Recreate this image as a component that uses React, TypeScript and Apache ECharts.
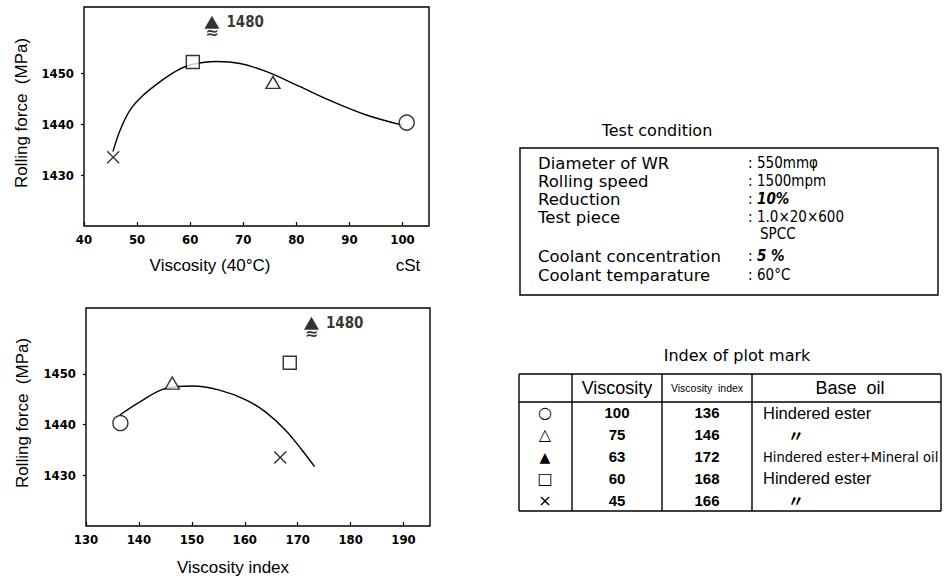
import React, { useEffect, useRef } from "react";
import * as echarts from "echarts";

// ---- data ----
const markNames = ["circle", "triangle", "filledTriangle", "square", "cross"];
const markGlyphs = ["○", "△", "▲", "□", "×"];
// table values
const viscosity = [100, 75, 63, 60, 45];
const viscosityIndex = [136, 146, 172, 168, 166];
const baseOil = ["Hindered ester", "〃", "Hindered ester+Mineral oil", "Hindered ester", "〃"];
// positions of the marks
const plotViscosity = [100.8, 75.6, 64.1, 60.5, 45.5];
const plotViscosityIndex = [136.5, 146.3, 172.6, 168.5, 166.7];
const rollingForce = [1440.3, 1448.2, 1480, 1452.2, 1433.5];
const brokenAxisForce = 1460; // off-scale value 1480 drawn at the top of the axis

const curve1X = [45.45, 46.8, 48.7, 51.2, 54.3, 57.5, 60.3, 65.0, 69.4, 74.4, 80.6, 86.9, 93.2, 100];
const curve1Y = [1434.6, 1438.8, 1442.8, 1445.7, 1448.3, 1450.5, 1451.7, 1452.3, 1451.9, 1450.3, 1447.4, 1444.4, 1441.8, 1439.8];
const curve2X = [136.4, 140.2, 145.2, 150.2, 155.2, 160.2, 163.9, 167.7, 170.8, 173.2];
const curve2Y = [1441.9, 1444.5, 1447.2, 1447.6, 1446.8, 1444.9, 1442.5, 1438.9, 1435.0, 1431.7];

const yTickLabels = [1430, 1440, 1450];
const xTicks1 = [40, 50, 60, 70, 80, 90, 100];
const xTicks2 = [130, 140, 150, 160, 170, 180, 190];

const conditionLabels = [
  "Diameter of WR",
  "Rolling speed",
  "Reduction",
  "Test piece",
  "",
  "Coolant concentration",
  "Coolant temparature",
];
const conditionValues = [": 550mmφ", ": 1500mpm", ": 10%", ": 1.0×20×600", "SPCC", ": 5 %", ": 60°C"];

const NARROW = "'Liberation Sans Narrow', 'DejaVu Sans Condensed', 'Liberation Sans', sans-serif";
const SANS = "'Liberation Sans', Arial, sans-serif";
const WIDE = "'DejaVu Sans', 'Liberation Sans', sans-serif";

function markStyle(name: string) {
  const base = { color: "#fff", borderColor: "#000", borderWidth: 1.4 };
  switch (name) {
    case "circle":
      return { symbol: "circle", symbolSize: 15, itemStyle: base };
    case "triangle":
      return { symbol: "triangle", symbolSize: [14, 12], itemStyle: base };
    case "filledTriangle":
      return { symbol: "triangle", symbolSize: [15, 13], itemStyle: { color: "#000" } };
    case "square":
      return { symbol: "rect", symbolSize: 13, itemStyle: base };
    default:
      return {
        symbol: "path://M0,0L10,10M10,0L0,10",
        symbolSize: 12,
        itemStyle: { color: "none", borderColor: "#000", borderWidth: 1.4 },
      };
  }
}

function makeXAxis(grid: number, min: number, max: number, ticks: number[]) {
  return {
    type: "value",
    gridIndex: grid,
    min,
    max,
    interval: 10,
    splitLine: { show: false },
    axisLine: { show: false },
    axisTick: { show: true, inside: true, length: 4, lineStyle: { color: "#000", width: 1.2 }, customValues: ticks },
    axisLabel: {
      customValues: ticks,
      formatter: (v: number) => (ticks.includes(v) ? String(v) : ""),
      color: "#000",
      fontFamily: NARROW,
      fontWeight: "bold",
      fontSize: 13,
      margin: 7,
    },
  };
}

function makeYAxis(grid: number) {
  return {
    type: "value",
    gridIndex: grid,
    min: 1420,
    max: 1463,
    interval: 10,
    splitLine: { show: false },
    axisLine: { show: false },
    axisTick: { show: true, inside: false, length: 3, lineStyle: { color: "#000", width: 1.2 }, customValues: yTickLabels },
    axisLabel: {
      customValues: yTickLabels,
      formatter: (v: number) => (yTickLabels.includes(v) ? String(v) : ""),
      color: "#000",
      fontFamily: NARROW,
      fontWeight: "bold",
      fontSize: 13,
      margin: 10,
    },
  };
}

function scatterData(xs: number[]) {
  return markNames.map((name, i) => ({
    value: [xs[i], name === "filledTriangle" ? brokenAxisForce : rollingForce[i]],
    ...markStyle(name),
    label:
      name === "filledTriangle"
        ? {
            show: true,
            position: "right",
            distance: 7,
            formatter: String(rollingForce[i]),
            color: "#000",
            fontFamily: NARROW,
            fontWeight: "bold",
            fontSize: 15,
          }
        : { show: false },
  }));
}

function breakMark(xs: number[]) {
  const i = markNames.indexOf("filledTriangle");
  return [
    {
      value: [xs[i], brokenAxisForce],
      symbolSize: 0,
      label: {
        show: true,
        position: "bottom",
        distance: 4,
        formatter: "≈",
        color: "#000",
        fontFamily: WIDE,
        fontWeight: "bold",
        fontSize: 16,
        lineHeight: 12,
      },
    },
  ];
}

function txt(text: string, x: number, y: number, opts: any = {}) {
  return {
    type: "text",
    x,
    y,
    rotation: opts.rotation || 0,
    silent: true,
    style: {
      text,
      fill: "#000",
      fontSize: opts.size || 16,
      fontFamily: opts.family || SANS,
      fontWeight: opts.weight || "normal",
      fontStyle: opts.style || "normal",
      align: opts.align || "left",
      verticalAlign: "middle",
      textAlign: opts.align || "left",
      textVerticalAlign: "middle",
    },
  };
}

function ln(x1: number, y1: number, x2: number, y2: number, w = 1.4) {
  return { type: "line", silent: true, shape: { x1, y1, x2, y2 }, style: { stroke: "#000", lineWidth: w } };
}

function buildGraphics() {
  const g: any[] = [];
  // axis titles
  g.push(txt("Rolling force  (MPa)", 21, 113, { size: 17, rotation: Math.PI / 2, align: "center" }));
  g.push(txt("Viscosity (40°C)", 210, 265, { size: 17, align: "center" }));
  g.push(txt("cSt", 408, 265, { size: 17, align: "center" }));
  g.push(txt("Rolling force  (MPa)", 22, 413, { size: 17, rotation: Math.PI / 2, align: "center" }));
  g.push(txt("Viscosity index", 233, 567, { size: 17, align: "center" }));

  // Test condition box
  g.push(txt("Test condition", 657, 130, { size: 16, family: WIDE, align: "center" }));
  g.push({
    type: "rect",
    silent: true,
    shape: { x: 520, y: 148, width: 418, height: 147 },
    style: { fill: "none", stroke: "#000", lineWidth: 1.4 },
  });
  const rowY = [163, 181, 199, 217, 234, 256, 275];
  conditionLabels.forEach((t, i) => {
    if (t) g.push(txt(t, 538, rowY[i], { size: 16.5, family: WIDE }));
  });
  conditionValues.forEach((t, i) => {
    const emph = i === 2 || i === 5;
    if (t.startsWith(":")) {
      g.push(txt(":", 748, rowY[i], { size: 15, family: NARROW }));
      g.push(
        txt(t.slice(1).trim(), 757, rowY[i], {
          size: 15,
          family: NARROW,
          weight: emph ? "bold" : "normal",
          style: emph ? "italic" : "normal",
        })
      );
    } else {
      g.push(txt(t, 760, rowY[i], { size: 15, family: NARROW }));
    }
  });

  // Index of plot mark table
  g.push(txt("Index of plot mark", 737, 355, { size: 16, family: WIDE, align: "center" }));
  const top = 374;
  const headBottom = 402;
  const bottom = 511;
  const colX = [519, 572, 662, 752, 941];
  g.push(ln(colX[0], top, colX[4], top));
  g.push(ln(colX[0], headBottom, colX[4], headBottom));
  g.push(ln(colX[0], bottom, colX[4], bottom));
  colX.forEach((x) => g.push(ln(x, top, x, bottom)));
  const headY = (top + headBottom) / 2;
  g.push(txt("Viscosity", 617, headY, { size: 18, align: "center" }));
  g.push(txt("Viscosity  index", 707, headY, { size: 10.5, align: "center" }));
  g.push(txt("Base  oil", 850, headY, { size: 18, align: "center" }));
  const rowH = (bottom - headBottom) / markNames.length;
  markNames.forEach((_, i) => {
    const y = headBottom + rowH * (i + 0.5);
    g.push(txt(markGlyphs[i], 545, y, { size: markGlyphs[i] === "▲" ? 14 : 16, family: WIDE, align: "center" }));
    g.push(txt(String(viscosity[i]), 617, y, { size: 15, weight: "bold", align: "center" }));
    g.push(txt(String(viscosityIndex[i]), 707, y, { size: 15, weight: "bold", align: "center" }));
    const oil = baseOil[i];
    if (oil === "〃") {
      g.push(txt("〃", 796, y, { size: 16, family: "'Noto Sans CJK JP', sans-serif", weight: "bold", align: "center" }));
    } else if (oil.includes("+")) {
      g.push(txt(oil, 763, y, { size: 14.5, family: NARROW }));
    } else {
      g.push(txt(oil, 763, y, { size: 16.5 }));
    }
  });
  return g;
}

export default function App() {
  const ref = useRef<HTMLDivElement>(null);
  useEffect(() => {
    if (!ref.current) return;
    const chart = echarts.init(ref.current, undefined, { renderer: "svg" });
    const gridStyle = { show: true, borderColor: "#000", borderWidth: 1.4, backgroundColor: "transparent" };
    chart.setOption({
      animation: false,
      backgroundColor: "#fff",
      grid: [
        { left: 84, top: 7, width: 345, height: 219, ...gridStyle },
        { left: 86, top: 308, width: 344, height: 218, ...gridStyle },
      ],
      xAxis: [makeXAxis(0, 40, 105, xTicks1), makeXAxis(1, 130, 195, xTicks2)],
      yAxis: [makeYAxis(0), makeYAxis(1)],
      series: [
        {
          type: "line",
          xAxisIndex: 0,
          yAxisIndex: 0,
          data: curve1X.map((x, i) => [x, curve1Y[i]]),
          smooth: 0.35,
          showSymbol: false,
          lineStyle: { color: "#000", width: 1.4 },
          z: 1,
        },
        {
          type: "line",
          xAxisIndex: 1,
          yAxisIndex: 1,
          data: curve2X.map((x, i) => [x, curve2Y[i]]),
          smooth: 0.35,
          showSymbol: false,
          lineStyle: { color: "#000", width: 1.4 },
          z: 1,
        },
        { type: "scatter", xAxisIndex: 0, yAxisIndex: 0, data: scatterData(plotViscosity), z: 3 },
        { type: "scatter", xAxisIndex: 1, yAxisIndex: 1, data: scatterData(plotViscosityIndex), z: 3 },
        { type: "scatter", xAxisIndex: 0, yAxisIndex: 0, data: breakMark(plotViscosity), z: 3 },
        { type: "scatter", xAxisIndex: 1, yAxisIndex: 1, data: breakMark(plotViscosityIndex), z: 3 },
      ],
      graphic: buildGraphics(),
    });
    return () => chart.dispose();
  }, []);
  return <div ref={ref} style={{ position: "absolute", left: 0, top: 0, width: 944, height: 578 }} />;
}
